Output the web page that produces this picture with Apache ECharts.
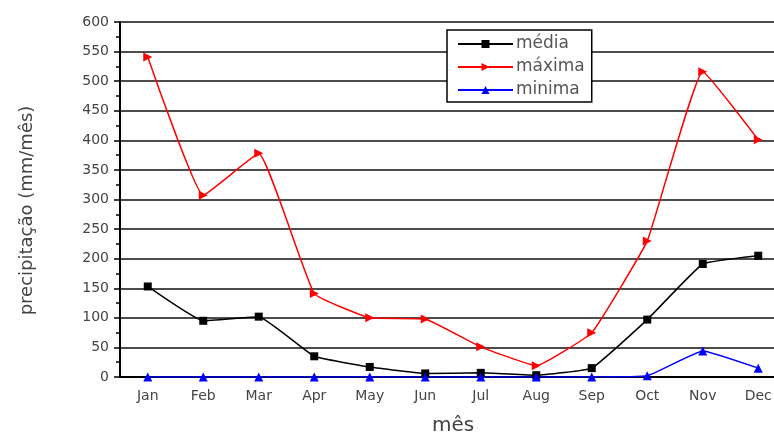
<!DOCTYPE html>
<html>
<head>
<meta charset="utf-8">
<script src="https://cdn.jsdelivr.net/npm/echarts@6/dist/echarts.min.js"></script>
<style>
html,body{margin:0;padding:0;background:#fff;}
#c{width:774px;height:435px;}
</style>
</head>
<body>
<div id="c"></div>
<script>
const months = ['Jan','Feb','Mar','Apr','May','Jun','Jul','Aug','Sep','Oct','Nov','Dec'];
const media  = [153, 95, 102, 35, 17, 6, 7, 3, 15, 97, 191, 205];
const maxima = [541, 307, 378, 141, 100, 98, 51, 19, 75, 230, 516, 401];
const minima = [0, 0, 0, 0, 0, 0, 0, 0, 0, 2, 44, 15];
const seriesNames = ['média', 'máxima', 'minima'];

const chart = echarts.init(document.getElementById('c'));
const font = 'DejaVu Sans, sans-serif';
function mk(name, data, color, symbol, size){
  return {
    name: name, type: 'line', data: data, smooth: 0.1,
    symbol: symbol, symbolSize: size,
    lineStyle: {color: color, width: 1.5},
    itemStyle: {color: color},
    z: 3
  };
}
chart.setOption({
  animation: false,
  backgroundColor: '#fff',
  grid: {left: 120, top: 22, bottom: 58, right: -12, containLabel: false, outerBoundsMode: 'none'},
  legend: {
    orient: 'vertical', left: 447, top: 30,
    data: seriesNames,
    itemWidth: 55, itemHeight: 10, itemGap: 3,
    padding: [4, 7, 2, 10],
    borderColor: '#000', borderWidth: 1.5, backgroundColor: '#fff',
    textStyle: {fontFamily: font, fontSize: 17, lineHeight: 20, color: '#555', padding: [0,0,0,-2]}
  },
  xAxis: {
    type: 'category', data: months, boundaryGap: true,
    name: 'mês', nameLocation: 'middle', nameGap: 39,
    nameTextStyle: {fontFamily: font, fontSize: 20, color: '#444'},
    axisLine: {lineStyle: {color: '#000', width: 2}},
    axisTick: {alignWithLabel: true, length: 6, lineStyle: {color: '#000', width: 1.5}},
    axisLabel: {fontFamily: font, fontSize: 14, color: '#444', margin: 12},
    splitLine: {show: false}
  },
  yAxis: {
    type: 'value', min: 0, max: 600, interval: 50,
    name: 'precipitação (mm/mês)', nameLocation: 'middle', nameGap: 84,
    nameTextStyle: {fontFamily: font, fontSize: 18, color: '#444', padding: [0, 22, 0, 0]},
    axisLine: {show: true, lineStyle: {color: '#000', width: 2}},
    axisTick: {show: true, length: 6, lineStyle: {color: '#000', width: 1.5}},
    minorTick: {show: true, splitNumber: 2, length: 4, lineStyle: {color: '#000', width: 1.5}},
    axisLabel: {fontFamily: font, fontSize: 14, color: '#444', margin: 11},
    splitLine: {show: true, lineStyle: {color: '#111', width: 1.5}}
  },
  series: [
    mk(seriesNames[0], media, '#000', 'rect', 8),
    mk(seriesNames[1], maxima, '#ff0000', 'path://M0,0L10,5L0,10Z', 9),
    mk(seriesNames[2], minima, '#0000ff', 'triangle', 9)
  ]
});
</script>
</body>
</html>
